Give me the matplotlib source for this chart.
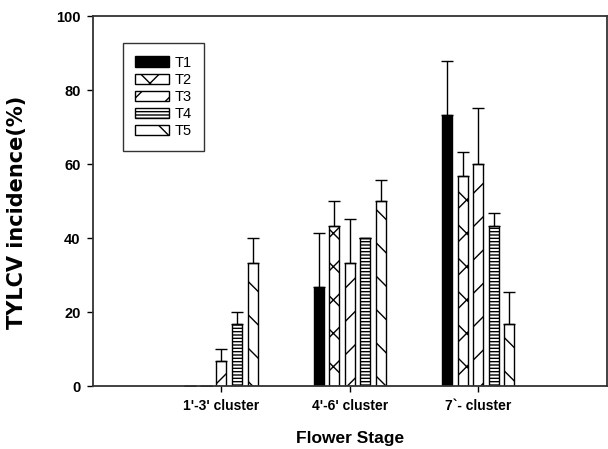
import matplotlib.pyplot as plt
import numpy as np

plt.rcParams['hatch.linewidth'] = 1.0

stages = ["1'-3' cluster", "4'-6' cluster", "7`- cluster"]
treatments = ["T1", "T2", "T3", "T4", "T5"]

# incidence (%) per treatment, one value per flower stage
medias = [
    [0, 26.7, 73.3],
    [0, 43.3, 56.7],
    [6.7, 33.3, 60.0],
    [16.7, 40.0, 43.3],
    [33.3, 50.0, 16.7],
]
# upper error (std)
desvios = [
    [0, 14.6, 14.5],
    [0, 6.8, 6.6],
    [3.3, 12.0, 15.3],
    [3.3, 0, 3.4],
    [6.7, 5.7, 8.8],
]

hachuras = [None, 'x', '/', '-----', '\\']
cores = ['black', 'white', 'white', 'white', 'white']

fig = plt.figure(figsize=(6.08, 4.49), dpi=100)
ax = fig.add_axes([0.153, 0.140, 0.845, 0.824])

x = np.arange(len(stages))
largura = 0.078
passo = 0.121

for i, t in enumerate(treatments):
    pos = x + (i - 2) * passo
    ax.bar(pos, medias[i], largura, color=cores[i], edgecolor='black',
           hatch=hachuras[i], linewidth=1.0, label=t)
    ax.errorbar(pos, medias[i], yerr=[np.zeros(3), desvios[i]], fmt='none',
                ecolor='black', elinewidth=1.0, capsize=4, capthick=1.0)

ax.set_xlim(-1.0, 3.0)
ax.set_ylim(0, 100)
ax.set_yticks([0, 20, 40, 60, 80, 100])
ax.set_xticks(x)
ax.set_xticklabels(stages, fontsize=10, fontweight='bold', family='Liberation Sans')
for lb in ax.get_yticklabels():
    lb.set_fontsize(10.5)
    lb.set_fontweight('bold')
    lb.set_family('Liberation Sans')
ax.tick_params(direction='out', length=4, width=1.0, pad=5)

for s in ax.spines.values():
    s.set_linewidth(1.3)
    s.set_color('#333333')

ax.set_ylabel('TYLCV incidence(%)', fontsize=15, fontweight='bold',
              family='DejaVu Sans')
ax.yaxis.set_label_coords(-0.128, 0.47)
ax.set_xlabel('Flower Stage', fontsize=12.5, fontweight='bold',
              family='Liberation Sans', labelpad=13)

leg = ax.legend(loc='upper left', bbox_to_anchor=(0.058, 0.927), frameon=True,
                fancybox=False, edgecolor='black', handlelength=2.3,
                handleheight=0.7, handletextpad=0.4, labelspacing=0.22,
                borderpad=0.85, borderaxespad=0,
                prop={'family': 'Liberation Sans', 'size': 10.5})
leg.get_frame().set_linewidth(1.0)

fig.savefig('out.png', dpi=100)
